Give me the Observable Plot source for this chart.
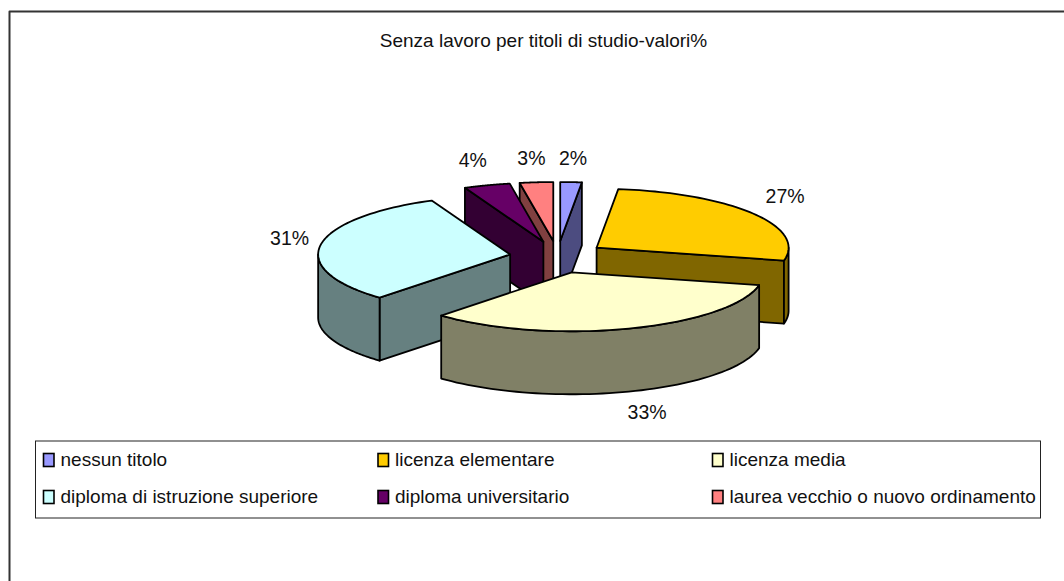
<!DOCTYPE html>
<html><head><meta charset="utf-8">
<script src="https://cdn.jsdelivr.net/npm/d3@7"></script>
<script src="https://cdn.jsdelivr.net/npm/@observablehq/plot@0.6"></script>
<style>html,body{margin:0;padding:0;background:#fff;overflow:hidden}svg{display:block}</style>
</head><body>
<script>
const chartTitle = "Senza lavoro per titoli di studio-valori%";
const categories = ["nessun titolo","licenza elementare","licenza media","diploma di istruzione superiore","diploma universitario","laurea vecchio o nuovo ordinamento"];
const values = [1.8,26.7,33.4,31.4,3.9,2.8];
const topColors = ["#9999FF","#FFCC00","#FFFFCC","#CCFFFF","#660066","#FF8080"];
const wallColors = ["#4C4C80","#806600","#808066","#668080","#330033","#804040"];
const drawOrder = [0,5,4,1,3,2];

const W=1064,H=581,cx=557,cy=256.5,a=192,b=59,depth=63,ex=48,ey=16;
const labelNudge=[[0,0],[4,-3],[8,-4],[3,-3],[-4,-2],[-2,0]];
const rad=Math.PI/180;
const total=d3.sum(values);
let acc=0;
const slices=values.map((v,i)=>{
  const t0=acc/total*360; acc+=v; const t1=acc/total*360; const m=(t0+t1)/2*rad;
  return {i,v,t0,t1,m,ax:cx+ex*Math.sin(m),ay:cy-ey*Math.cos(m)};
});
const rimPt=(s,t)=>[s.ax+a*Math.sin(t*rad),s.ay-b*Math.cos(t*rad)];
const down=p=>[p[0],p[1]+depth];
const arc=(s,t0,t1)=>d3.range(0,61).map(k=>rimPt(s,t0+(t1-t0)*k/60));
const poly=(pts,fill,sw=1.8)=>Plot.line(pts,{x:d=>d[0],y:d=>d[1],fill,stroke:"#000",strokeWidth:sw,curve:"linear-closed",strokeLinejoin:"round"});

const pieMarks=[];
for(const idx of drawOrder){
  const s=slices[idx],wall=wallColors[idx],apex=[s.ax,s.ay];
  const wallFor=t=>{const r=rimPt(s,t);return poly([apex,r,down(r),down(apex)],wall);};
  if(Math.sin(s.t0*rad)<-1e-6) pieMarks.push(wallFor(s.t0));
  if(Math.sin(s.t1*rad)>1e-6) pieMarks.push(wallFor(s.t1));
  const f0=Math.max(s.t0,90),f1=Math.min(s.t1,270);
  if(f1>f0){const r=arc(s,f0,f1);pieMarks.push(poly([...r,...r.slice().reverse().map(down)],wall));}
  pieMarks.push(poly([apex,...arc(s,s.t0,s.t1)],topColors[idx]));
}
const labels=slices.map(s=>({
  text:Math.round(s.v/total*100)+"%",
  x:s.ax+1.18*a*Math.sin(s.m)+labelNudge[s.i][0],
  y:s.ay-1.42*b*Math.cos(s.m)+1+(Math.cos(s.m)<0?depth:0)+labelNudge[s.i][1]
}));
const legendCols=[43.5,378,712.5],legendRows=[460,497];
const legend=categories.map((c,i)=>({c,i,x:legendCols[i%3],y:legendRows[Math.floor(i/3)]}));
const font="Liberation Sans, Arial, sans-serif";

const chart=Plot.plot({
  width:W,height:H,margin:0,
  x:{domain:[0,W],range:[0,W],axis:null},
  y:{domain:[0,H],range:[0,H],axis:null},
  style:{background:"#fff",fontFamily:font},
  marks:[
    Plot.line([[9,581],[9,11],[1064,11]],{x:d=>d[0],y:d=>d[1],stroke:"#333",strokeWidth:2}),
    Plot.text([chartTitle],{x:()=>543,y:()=>40,text:d=>d,fontSize:19,fill:"#111",textAnchor:"middle",fontFamily:font}),
    ...pieMarks,
    Plot.text(labels,{x:"x",y:"y",text:"text",fontSize:19.5,fill:"#111",fontFamily:font}),
    Plot.rect([0],{x1:()=>35.5,x2:()=>1040.5,y1:()=>441,y2:()=>518,fill:"#fff",stroke:"#222",strokeWidth:1}),
    Plot.rect(legend,{x1:d=>d.x,x2:d=>d.x+10.5,y1:d=>d.y-6.5,y2:d=>d.y+6.5,fill:d=>topColors[d.i],stroke:"#000",strokeWidth:1.6}),
    Plot.text(legend,{x:d=>d.x+16.5,y:d=>d.y-0.5,text:"c",textAnchor:"start",fontSize:19,fill:"#111",fontFamily:font})
  ]
});
document.body.appendChild(chart);
</script>
</body></html>
